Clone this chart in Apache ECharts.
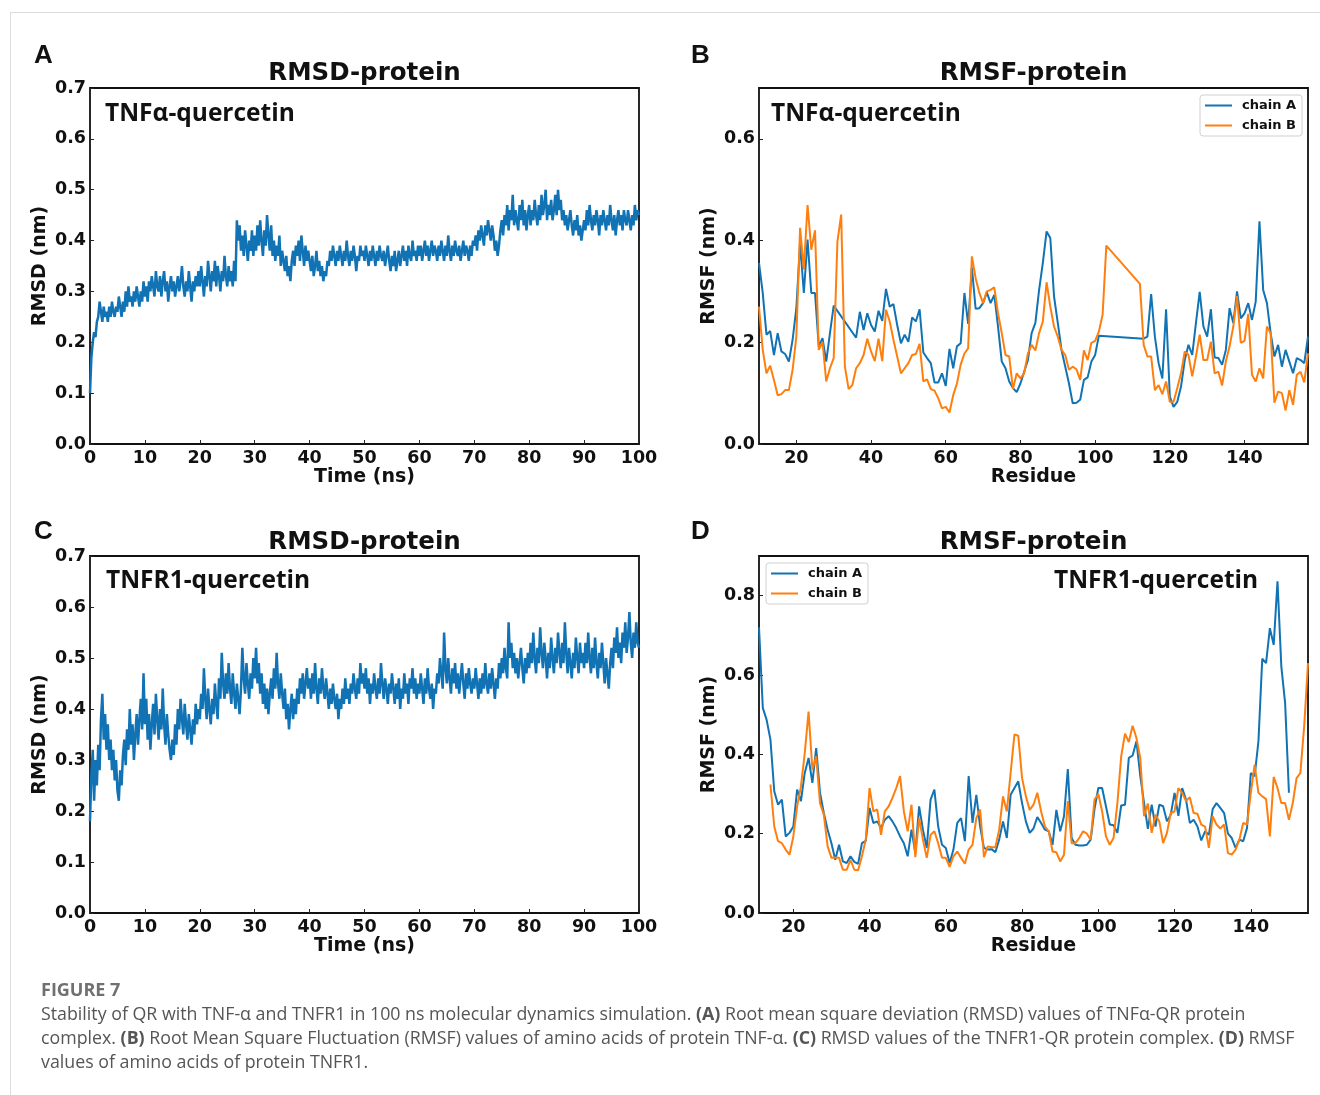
<!DOCTYPE html>
<html>
<head>
<meta charset="utf-8">
<script src="https://cdn.jsdelivr.net/npm/echarts@6/dist/echarts.min.js"></script>
<style>
html, body { margin: 0; padding: 0; background: #fff; }
#fig { width: 1320px; height: 1095px; }
</style>
</head>
<body>
<div id="fig"></div>
<script>
// RMSD traces, one sample every 0.25 ns from 0 to 100 ns (one row = 10 ns)
var rmsdStep = 0.25;
var rmsdTnfa = [
  0.10,0.17,0.20,0.22,0.21,0.24,0.25,0.28,0.26,0.24,0.27,0.25,0.26,0.24,0.27,0.25,0.28,0.26,0.25,0.27,
  0.26,0.29,0.27,0.25,0.28,0.26,0.30,0.27,0.31,0.28,0.29,0.27,0.30,0.28,0.31,0.29,0.27,0.30,0.28,0.32,
  0.29,0.31,0.28,0.32,0.30,0.33,0.31,0.29,0.34,0.31,0.30,0.33,0.29,0.32,0.34,0.30,0.32,0.28,0.31,0.33,
  0.30,0.32,0.29,0.31,0.33,0.30,0.32,0.35,0.31,0.29,0.32,0.30,0.34,0.31,0.28,0.32,0.30,0.33,0.31,0.34,
  0.31,0.35,0.32,0.29,0.33,0.31,0.36,0.33,0.30,0.34,0.32,0.36,0.31,0.35,0.33,0.30,0.34,0.32,0.37,0.33,
  0.31,0.35,0.32,0.34,0.31,0.36,0.32,0.44,0.40,0.43,0.38,0.41,0.37,0.42,0.39,0.36,0.40,0.38,0.42,0.37,
  0.41,0.38,0.43,0.39,0.44,0.40,0.37,0.42,0.39,0.45,0.41,0.38,0.43,0.37,0.40,0.36,0.39,0.37,0.41,0.35,
  0.38,0.36,0.34,0.37,0.33,0.35,0.32,0.36,0.38,0.35,0.39,0.37,0.40,0.36,0.41,0.38,0.35,0.39,0.36,0.38,
  0.36,0.34,0.37,0.33,0.35,0.38,0.34,0.36,0.33,0.35,0.32,0.34,0.33,0.36,0.35,0.38,0.36,0.39,0.37,0.35,
  0.38,0.36,0.39,0.37,0.35,0.38,0.36,0.40,0.37,0.35,0.38,0.36,0.39,0.37,0.34,0.37,0.36,0.39,0.37,0.38,
  0.36,0.39,0.37,0.35,0.38,0.36,0.39,0.37,0.35,0.38,0.36,0.39,0.37,0.36,0.38,0.35,0.37,0.39,0.36,0.34,
  0.37,0.35,0.38,0.34,0.36,0.38,0.35,0.37,0.39,0.36,0.38,0.35,0.39,0.37,0.36,0.40,0.37,0.38,0.36,0.39,
  0.37,0.39,0.36,0.38,0.40,0.37,0.39,0.36,0.38,0.40,0.37,0.39,0.38,0.36,0.39,0.37,0.40,0.38,0.36,0.39,
  0.37,0.41,0.38,0.36,0.39,0.37,0.40,0.38,0.37,0.39,0.36,0.38,0.40,0.37,0.39,0.38,0.36,0.39,0.37,0.40,
  0.39,0.41,0.38,0.42,0.40,0.43,0.41,0.39,0.43,0.41,0.44,0.42,0.40,0.43,0.41,0.38,0.40,0.37,0.39,0.42,
  0.44,0.41,0.45,0.43,0.47,0.42,0.46,0.44,0.49,0.43,0.46,0.44,0.42,0.47,0.44,0.48,0.43,0.46,0.42,0.45,
  0.47,0.43,0.46,0.44,0.48,0.45,0.43,0.47,0.44,0.49,0.45,0.47,0.50,0.44,0.47,0.45,0.48,0.44,0.46,0.49,
  0.45,0.50,0.46,0.48,0.44,0.46,0.43,0.45,0.42,0.44,0.46,0.43,0.41,0.44,0.42,0.45,0.41,0.43,0.40,0.42,
  0.44,0.42,0.46,0.43,0.47,0.44,0.42,0.45,0.43,0.46,0.44,0.41,0.45,0.43,0.46,0.44,0.42,0.45,0.43,0.47,
  0.44,0.42,0.45,0.41,0.44,0.46,0.43,0.45,0.42,0.46,0.44,0.43,0.46,0.44,0.42,0.45,0.43,0.47,0.44,0.46,
  0.45
];
var rmsdTnfr1 = [
  0.18,0.27,0.32,0.22,0.30,0.25,0.33,0.28,0.38,0.43,0.34,0.39,0.32,0.37,0.30,0.34,0.28,0.32,0.26,0.30,
  0.24,0.22,0.28,0.25,0.31,0.34,0.29,0.36,0.32,0.40,0.33,0.37,0.30,0.35,0.39,0.33,0.38,0.42,0.36,0.47,
  0.37,0.42,0.34,0.39,0.32,0.37,0.41,0.35,0.43,0.38,0.34,0.40,0.36,0.44,0.37,0.33,0.39,0.35,0.32,0.30,
  0.34,0.31,0.37,0.33,0.40,0.36,0.42,0.38,0.35,0.41,0.37,0.34,0.39,0.36,0.33,0.38,0.35,0.41,0.37,0.40,
  0.38,0.43,0.40,0.48,0.42,0.38,0.44,0.40,0.37,0.42,0.39,0.45,0.41,0.38,0.46,0.42,0.51,0.45,0.42,0.47,
  0.43,0.49,0.44,0.41,0.47,0.43,0.40,0.45,0.42,0.39,0.44,0.52,0.46,0.43,0.49,0.45,0.42,0.47,0.44,0.50,
  0.46,0.52,0.45,0.49,0.43,0.47,0.41,0.45,0.40,0.44,0.39,0.43,0.46,0.42,0.48,0.44,0.51,0.45,0.42,0.47,
  0.43,0.40,0.44,0.38,0.41,0.36,0.40,0.43,0.38,0.42,0.39,0.44,0.41,0.46,0.43,0.47,0.42,0.45,0.48,0.44,
  0.46,0.42,0.47,0.43,0.49,0.44,0.41,0.46,0.43,0.48,0.44,0.42,0.46,0.43,0.40,0.44,0.41,0.45,0.42,0.40,
  0.43,0.38,0.42,0.40,0.44,0.41,0.46,0.42,0.44,0.41,0.45,0.43,0.47,0.44,0.42,0.46,0.43,0.49,0.45,0.47,
  0.44,0.48,0.43,0.46,0.41,0.45,0.43,0.47,0.44,0.42,0.46,0.43,0.49,0.45,0.42,0.46,0.44,0.41,0.45,0.43,
  0.47,0.44,0.41,0.45,0.42,0.46,0.40,0.44,0.42,0.47,0.43,0.45,0.41,0.46,0.44,0.48,0.43,0.46,0.42,0.45,
  0.43,0.47,0.44,0.41,0.46,0.43,0.48,0.44,0.42,0.45,0.40,0.44,0.43,0.47,0.45,0.50,0.47,0.44,0.55,0.48,
  0.45,0.50,0.46,0.43,0.48,0.45,0.49,0.44,0.47,0.43,0.46,0.49,0.45,0.42,0.47,0.44,0.48,0.45,0.43,0.46,
  0.44,0.48,0.45,0.42,0.46,0.43,0.47,0.44,0.49,0.45,0.43,0.47,0.44,0.48,0.45,0.42,0.46,0.44,0.49,0.46,
  0.50,0.47,0.52,0.48,0.46,0.57,0.50,0.53,0.48,0.51,0.47,0.50,0.46,0.49,0.52,0.48,0.45,0.50,0.47,0.51,
  0.48,0.53,0.49,0.55,0.50,0.47,0.52,0.49,0.56,0.51,0.48,0.53,0.50,0.46,0.51,0.48,0.54,0.50,0.47,0.52,
  0.49,0.55,0.51,0.48,0.53,0.49,0.57,0.51,0.47,0.52,0.49,0.46,0.51,0.48,0.54,0.50,0.47,0.53,0.49,0.51,
  0.48,0.53,0.49,0.55,0.50,0.47,0.52,0.48,0.54,0.49,0.46,0.51,0.48,0.53,0.49,0.45,0.50,0.47,0.44,0.49,
  0.52,0.48,0.54,0.51,0.56,0.50,0.53,0.49,0.55,0.52,0.57,0.51,0.54,0.59,0.53,0.50,0.55,0.52,0.57,0.53,
  0.52
];

// RMSF per residue; residue runs given as [first, last]
var tnfaResA = [[10, 30], [36, 101], [113, 157]];
var tnfaRmsfA = [
  0.356,0.297,0.215,0.222,0.175,0.218,0.182,0.177,0.162,0.205,0.267,0.395,0.297,0.402,0.297,0.297,0.192,0.208,0.162,0.218,0.272,
  0.209,0.26,0.224,0.257,0.234,0.221,0.262,0.242,0.305,0.27,0.275,0.234,0.198,0.215,0.201,0.249,0.241,0.265,0.18,0.169,0.159,
  0.121,0.121,0.139,0.114,0.187,0.149,0.192,0.198,0.297,0.236,0.347,0.266,0.267,0.277,0.298,0.277,0.293,0.231,0.162,0.149,0.123,
  0.11,0.102,0.119,0.142,0.165,0.218,0.238,0.303,0.356,0.418,0.405,0.29,0.238,0.185,0.152,0.119,0.08,0.081,0.087,0.126,0.131,0.162,0.175,0.213,
  0.207,0.211,0.295,0.211,0.159,0.129,0.265,0.093,0.073,0.083,0.113,0.165,0.195,0.175,0.238,0.299,0.231,0.211,0.265,0.17,0.169,0.156,0.185,
  0.267,0.238,0.3,0.247,0.257,0.277,0.244,0.28,0.438,0.303,0.277,0.218,0.172,0.195,0.152,0.185,0.162,0.139,0.169,0.165,0.159,0.211
];
var tnfaResB = [[10, 103], [112, 157]];
var tnfaRmsfB = [
  0.27,0.185,0.139,0.154,0.126,0.096,0.098,0.106,0.106,0.146,0.211,0.425,0.343,0.47,0.382,0.42,0.185,0.201,0.123,0.149,0.169,
  0.398,0.451,0.152,0.108,0.116,0.149,0.159,0.175,0.207,0.182,0.163,0.207,0.163,0.264,0.241,0.205,0.172,0.139,0.149,0.159,
  0.175,0.177,0.197,0.123,0.127,0.108,0.105,0.09,0.07,0.073,0.062,0.096,0.119,0.156,0.178,0.188,0.369,0.326,0.297,0.277,
  0.3,0.303,0.308,0.257,0.218,0.175,0.172,0.108,0.139,0.129,0.139,0.178,0.195,0.184,0.218,0.241,0.318,0.27,0.231,0.211,
  0.185,0.175,0.146,0.152,0.147,0.126,0.184,0.165,0.199,0.203,0.221,0.254,0.39,
  0.315,0.195,0.172,0.172,0.106,0.116,0.098,0.123,0.083,0.083,0.11,0.139,0.182,0.175,0.133,0.172,0.215,0.165,0.165,0.201,
  0.139,0.142,0.115,0.162,0.192,0.231,0.291,0.199,0.203,0.256,0.136,0.123,0.149,0.129,0.231,0.218,0.081,0.103,0.1,0.066,
  0.106,0.077,0.136,0.142,0.121,0.178
];
var tnfr1ResA = [[11, 150]];
var tnfr1RmsfA = [
  0.72,0.517,0.487,0.437,0.307,0.273,0.286,0.193,0.202,0.218,0.311,0.282,0.353,0.391,0.328,0.416,0.303,0.252,0.21,0.176,
  0.134,0.172,0.13,0.126,0.143,0.129,0.124,0.176,0.182,0.265,0.227,0.231,0.214,0.235,0.244,0.231,0.214,0.193,0.176,0.143,
  0.21,0.151,0.269,0.21,0.164,0.286,0.311,0.218,0.172,0.164,0.126,0.16,0.227,0.239,0.181,0.345,0.227,0.298,0.218,0.164,
  0.16,0.161,0.153,0.185,0.231,0.189,0.298,0.315,0.332,0.277,0.231,0.202,0.213,0.242,0.227,0.21,0.206,0.172,0.26,0.206,
  0.244,0.363,0.189,0.172,0.17,0.17,0.172,0.185,0.262,0.315,0.315,0.269,0.223,0.221,0.202,0.271,0.273,0.391,0.397,0.433,
  0.346,0.277,0.212,0.273,0.218,0.273,0.269,0.231,0.248,0.303,0.245,0.315,0.286,0.227,0.235,0.218,0.183,0.206,0.197,0.262,
  0.277,0.265,0.252,0.2,0.189,0.164,0.185,0.181,0.214,0.353,0.345,0.433,0.641,0.63,0.718,0.676,0.836,0.622,0.529,0.303
];
var tnfr1ResB = [[14, 155]];
var tnfr1RmsfB = [
  0.324,0.218,0.181,0.176,0.16,0.147,0.193,0.269,0.319,0.403,0.508,0.361,0.395,0.277,0.248,0.168,0.139,0.14,0.139,0.109,
  0.109,0.134,0.109,0.108,0.143,0.185,0.315,0.256,0.261,0.197,0.256,0.269,0.29,0.315,0.345,0.256,0.206,0.273,0.141,0.239,
  0.185,0.139,0.197,0.206,0.176,0.139,0.139,0.116,0.143,0.155,0.139,0.124,0.16,0.172,0.239,0.261,0.141,0.168,0.166,0.166,
  0.21,0.294,0.256,0.353,0.45,0.447,0.34,0.294,0.26,0.273,0.303,0.256,0.218,0.206,0.155,0.153,0.13,0.147,0.282,0.176,
  0.176,0.189,0.206,0.2,0.185,0.286,0.3,0.256,0.193,0.172,0.189,0.277,0.395,0.452,0.431,0.472,0.441,0.391,0.244,0.276,
  0.202,0.248,0.231,0.176,0.202,0.252,0.256,0.315,0.303,0.282,0.292,0.252,0.25,0.223,0.218,0.164,0.244,0.223,0.213,0.223,
  0.151,0.147,0.16,0.185,0.227,0.223,0.303,0.374,0.303,0.294,0.287,0.193,0.343,0.315,0.277,0.277,0.235,0.277,0.34,0.353,
  0.471,0.63
];

// tick labels
var timeTicks = [0, 10, 20, 30, 40, 50, 60, 70, 80, 90, 100];
var residueTicks = [20, 40, 60, 80, 100, 120, 140];
var rmsdTicks = [0, 0.1, 0.2, 0.3, 0.4, 0.5, 0.6, 0.7];
var rmsfTicksB = [0, 0.2, 0.4, 0.6];
var rmsfTicksD = [0, 0.2, 0.4, 0.6, 0.8];

function expand(runs) {
  var out = [];
  runs.forEach(function (r) {
    for (var i = r[0]; i <= r[1]; i++) out.push(i);
  });
  return out;
}
function pairs(xs, ys) {
  return ys.map(function (y, i) { return [xs[i], y]; });
}
var rmsdTimes = rmsdTnfa.map(function (_, i) { return i * rmsdStep; });

var BLUE = '#1173b4';
var ORANGE = '#ff7f0e';
var TICKFONT = 'DejaVu Sans';

function xAxisFor(idx, min, max, ticks, name) {
  return {
    gridIndex: idx, type: 'value', min: min, max: max,
    name: name, nameLocation: 'middle', nameGap: 22,
    nameTextStyle: {fontFamily: TICKFONT, fontWeight: 'bold', fontSize: 19, color: '#111'},
    axisLine: {show: false},
    axisTick: {show: true, inside: true, length: 4, customValues: ticks, lineStyle: {color: '#222', width: 1}},
    axisLabel: {customValues: ticks, margin: 5, fontFamily: TICKFONT, fontWeight: 'bold', fontSize: 17.5, color: '#111'},
    splitLine: {show: false}
  };
}
function yAxisFor(idx, min, max, ticks, name) {
  return {
    gridIndex: idx, type: 'value', min: min, max: max,
    name: name, nameLocation: 'middle', nameGap: 40,
    nameTextStyle: {fontFamily: TICKFONT, fontWeight: 'bold', fontSize: 19, color: '#111'},
    axisLine: {show: false},
    axisTick: {show: true, inside: true, length: 4, customValues: ticks, lineStyle: {color: '#222', width: 1}},
    axisLabel: {
      customValues: ticks, margin: 4, fontFamily: TICKFONT, fontWeight: 'bold', fontSize: 17.5, color: '#111',
      formatter: function (v) { return v.toFixed(1); }
    },
    splitLine: {show: false}
  };
}

function txt(text, x, y, opts) {
  var style = {
    text: text, x: x, y: y,
    fill: opts.color || '#111',
    fontFamily: opts.family || TICKFONT,
    fontWeight: opts.weight || 'bold',
    fontSize: opts.size,
    align: opts.align || 'left',
    verticalAlign: 'middle'
  };
  if (opts.rich) style.rich = opts.rich;
  return {type: 'text', style: style, silent: true};
}

var chart = echarts.init(document.getElementById('fig'), null, {renderer: 'canvas'});

var gridBox = {show: true, borderColor: '#111', borderWidth: 1.8, backgroundColor: 'transparent'};
var legendCommon = {
  orient: 'vertical', icon: 'rect', itemWidth: 27, itemHeight: 2, itemGap: 7,
  padding: [4, 6, 4, 5], borderColor: '#d0d0d0', borderWidth: 1, borderRadius: 3,
  backgroundColor: '#fff',
  textStyle: {fontFamily: TICKFONT, fontWeight: 'bold', fontSize: 13, color: '#111', padding: [0, 0, 0, 5]}
};

var CAPFONT = 'Open Sans';
var capRich = {
  b: {fontFamily: CAPFONT, fontWeight: 'bold', fontSize: 17.8, fill: '#555'}
};

var option = {
  backgroundColor: '#fff',
  animation: false,
  grid: [
    Object.assign({left: 90, top: 88, width: 549, height: 356}, gridBox),
    Object.assign({left: 759, top: 88, width: 549, height: 356}, gridBox),
    Object.assign({left: 90, top: 556, width: 549, height: 357}, gridBox),
    Object.assign({left: 759, top: 556, width: 549, height: 357}, gridBox)
  ],
  xAxis: [
    xAxisFor(0, 0, 100, timeTicks, 'Time (ns)'),
    xAxisFor(1, 10, 157, residueTicks, 'Residue'),
    xAxisFor(2, 0, 100, timeTicks, 'Time (ns)'),
    xAxisFor(3, 11, 155, residueTicks, 'Residue')
  ],
  yAxis: [
    yAxisFor(0, 0, 0.7, rmsdTicks, 'RMSD (nm)'),
    yAxisFor(1, 0, 0.7, rmsfTicksB, 'RMSF (nm)'),
    yAxisFor(2, 0, 0.7, rmsdTicks, 'RMSD (nm)'),
    yAxisFor(3, 0, 0.9, rmsfTicksD, 'RMSF (nm)')
  ],
  legend: [
    Object.assign({left: 1200, top: 95, data: ['chain A', 'chain B']}, legendCommon),
    Object.assign({left: 766, top: 563, data: ['chain A', 'chain B']}, legendCommon)
  ],
  series: [
    {name: 'RMSD TNFα', type: 'line', xAxisIndex: 0, yAxisIndex: 0, symbol: 'none', silent: true,
      lineStyle: {color: BLUE, width: 2.5}, data: pairs(rmsdTimes, rmsdTnfa)},
    {name: 'chain A', type: 'line', xAxisIndex: 1, yAxisIndex: 1, symbol: 'none', silent: true,
      color: BLUE, lineStyle: {color: BLUE, width: 2}, data: pairs(expand(tnfaResA), tnfaRmsfA)},
    {name: 'chain B', type: 'line', xAxisIndex: 1, yAxisIndex: 1, symbol: 'none', silent: true,
      color: ORANGE, lineStyle: {color: ORANGE, width: 2}, data: pairs(expand(tnfaResB), tnfaRmsfB)},
    {name: 'RMSD TNFR1', type: 'line', xAxisIndex: 2, yAxisIndex: 2, symbol: 'none', silent: true,
      lineStyle: {color: BLUE, width: 2.5}, data: pairs(rmsdTimes, rmsdTnfr1)},
    {name: 'chain A', type: 'line', xAxisIndex: 3, yAxisIndex: 3, symbol: 'none', silent: true,
      color: BLUE, lineStyle: {color: BLUE, width: 2}, data: pairs(expand(tnfr1ResA), tnfr1RmsfA)},
    {name: 'chain B', type: 'line', xAxisIndex: 3, yAxisIndex: 3, symbol: 'none', silent: true,
      color: ORANGE, lineStyle: {color: ORANGE, width: 2}, data: pairs(expand(tnfr1ResB), tnfr1RmsfB)}
  ],
  graphic: [
    {type: 'line', silent: true, shape: {x1: 10, y1: 12.5, x2: 1320, y2: 12.5}, style: {stroke: '#dcdcdc', lineWidth: 1}},
    {type: 'line', silent: true, shape: {x1: 10.5, y1: 12, x2: 10.5, y2: 1095}, style: {stroke: '#dcdcdc', lineWidth: 1}},

    txt('A', 34, 56, {family: 'Liberation Sans', size: 26}),
    txt('B', 691, 56, {family: 'Liberation Sans', size: 26}),
    txt('C', 34, 532, {family: 'Liberation Sans', size: 26}),
    txt('D', 691, 532, {family: 'Liberation Sans', size: 26}),

    txt('RMSD-protein', 364.5, 74, {size: 24.5, align: 'center'}),
    txt('RMSF-protein', 1033.5, 74, {size: 24.5, align: 'center'}),
    txt('RMSD-protein', 364.5, 543, {size: 24.5, align: 'center'}),
    txt('RMSF-protein', 1033.5, 543, {size: 24.5, align: 'center'}),

    txt('TNFα-quercetin', 105, 114, {family: 'Open Sans', weight: 'bold', size: 24.5}),
    txt('TNFα-quercetin', 771, 114, {family: 'Open Sans', weight: 'bold', size: 24.5}),
    txt('TNFR1-quercetin', 106, 581, {family: 'Open Sans', weight: 'bold', size: 24.5}),
    txt('TNFR1-quercetin', 1054, 581, {family: 'Open Sans', weight: 'bold', size: 24.5}),

    txt('FIGURE 7', 41, 991, {family: CAPFONT, weight: 'bold', size: 18, color: '#707070'}),
    txt('Stability of QR with TNF-α and TNFR1 in 100 ns molecular dynamics simulation. {b|(A)} Root mean square deviation (RMSD) values of TNFα-QR protein',
      41, 1015, {family: CAPFONT, weight: 'normal', size: 17.8, color: '#555', rich: capRich}),
    txt('complex. {b|(B)} Root Mean Square Fluctuation (RMSF) values of amino acids of protein TNF-α. {b|(C)} RMSD values of the TNFR1-QR protein complex. {b|(D)} RMSF',
      41, 1039, {family: CAPFONT, weight: 'normal', size: 17.8, color: '#555', rich: capRich}),
    txt('values of amino acids of protein TNFR1.', 41, 1063, {family: CAPFONT, weight: 'normal', size: 17.8, color: '#555'})
  ]
};

chart.setOption(option);
</script>
</body>
</html>
